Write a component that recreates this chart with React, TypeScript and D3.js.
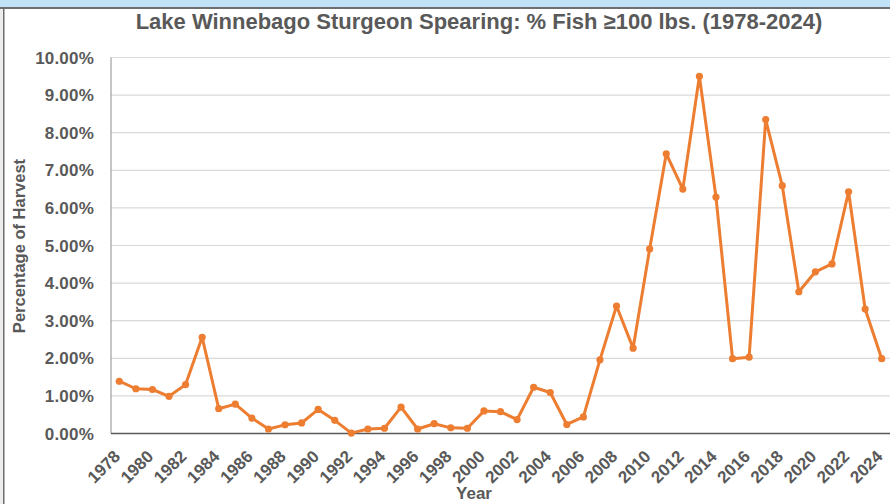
import React, { useEffect, useRef } from "react";
import * as d3 from "d3";

const years = d3.range(1978, 2025).map(String);
const pctValues = [
  1.39, 1.19, 1.17, 0.99, 1.3, 2.56, 0.66, 0.78, 0.41, 0.12,
  0.23, 0.28, 0.64, 0.35, 0.01, 0.12, 0.14, 0.7, 0.12, 0.26,
  0.15, 0.14, 0.6, 0.58, 0.37, 1.23, 1.09, 0.24, 0.44, 1.96,
  3.39, 2.27, 4.91, 7.44, 6.5, 9.5, 6.29, 1.99, 2.03, 8.35,
  6.59, 3.77, 4.3, 4.51, 6.43, 3.31, 1.99,
];
const yTicks = [0, 1, 2, 3, 4, 5, 6, 7, 8, 9, 10];
const xLabels = years.filter((y) => +y % 2 === 0);

const App = () => {
  const ref = useRef(null);

  useEffect(() => {
    const W = 890;
    const H = 504;
    const left = 111;
    const right = 890;
    const top = 57.5;
    const bottom = 433.5;
    const grey = "#595959";
    const font = "'Liberation Sans', Arial, sans-serif";

    d3.select(ref.current).select("svg").remove();

    const svg = d3
      .select(ref.current)
      .append("svg")
      .attr("width", W)
      .attr("height", H)
      .style("position", "fixed")
      .style("left", 0)
      .style("top", 0)
      .style("background", "#ffffff")
      .style("font-family", font);

    // window frame
    svg.append("rect").attr("x", 0).attr("y", 0).attr("width", W).attr("height", 7).attr("fill", "#c2e2f8");
    svg.append("rect").attr("x", 0).attr("y", 7).attr("width", W).attr("height", 2).attr("fill", "#6e6e6e");
    svg.append("rect").attr("x", 0).attr("y", 9).attr("width", 3).attr("height", H - 9).attr("fill", "#ededed");
    svg.append("rect").attr("x", 3).attr("y", 9).attr("width", 1.5).attr("height", H - 9).attr("fill", "#6e6e6e");

    const x = d3.scaleBand().domain(years).range([left, right]).padding(0);
    const y = d3.scaleLinear().domain([0, 10]).range([bottom, top]);
    const cx = (d) => x(d) + x.bandwidth() / 2;

    // gridlines
    svg
      .append("g")
      .selectAll("line")
      .data(yTicks.filter((t) => t > 0))
      .enter()
      .append("line")
      .attr("x1", left)
      .attr("x2", right)
      .attr("y1", (d) => y(d))
      .attr("y2", (d) => y(d))
      .attr("stroke", "#d9d9d9")
      .attr("stroke-width", 1.2);

    // axes lines
    svg.append("line").attr("x1", left).attr("x2", left).attr("y1", top).attr("y2", bottom).attr("stroke", "#8c8c8c").attr("stroke-width", 1);
    svg.append("line").attr("x1", left).attr("x2", right).attr("y1", bottom).attr("y2", bottom).attr("stroke", grey).attr("stroke-width", 1.5);

    // y tick labels
    svg
      .append("g")
      .selectAll("text")
      .data(yTicks)
      .enter()
      .append("text")
      .attr("x", 94)
      .attr("y", (d) => y(d) + 6)
      .attr("text-anchor", "end")
      .attr("font-size", 17)
      .attr("font-weight", "bold")
      .attr("letter-spacing", 0.2)
      .attr("fill", grey)
      .text((d) => d.toFixed(2) + "%");

    // x tick labels
    svg
      .append("g")
      .selectAll("text")
      .data(xLabels)
      .enter()
      .append("text")
      .attr("transform", (d) => `translate(${cx(d) + 2},${bottom + 24}) rotate(-45)`)
      .attr("text-anchor", "end")
      .attr("font-size", 17)
      .attr("font-weight", "bold")
      .attr("fill", grey)
      .text((d) => d);

    // titles
    svg
      .append("text")
      .attr("x", 479)
      .attr("y", 29)
      .attr("text-anchor", "middle")
      .attr("font-size", 22)
      .attr("font-weight", "bold")
      .attr("fill", grey)
      .text("Lake Winnebago Sturgeon Spearing: % Fish ≥100 lbs. (1978-2024)");

    svg
      .append("text")
      .attr("transform", `translate(25,246) rotate(-90)`)
      .attr("text-anchor", "middle")
      .attr("font-size", 16.5)
      .attr("font-weight", "bold")
      .attr("fill", grey)
      .text("Percentage of Harvest");

    svg
      .append("text")
      .attr("x", 474)
      .attr("y", 499)
      .attr("text-anchor", "middle")
      .attr("font-size", 17)
      .attr("font-weight", "bold")
      .attr("fill", grey)
      .text("Year");

    // series
    const line = d3
      .line()
      .x((d, i) => cx(years[i]))
      .y((d) => y(d));

    svg
      .append("path")
      .datum(pctValues)
      .attr("d", line)
      .attr("fill", "none")
      .attr("stroke", "#ed7d31")
      .attr("stroke-width", 3)
      .attr("stroke-linejoin", "round");

    svg
      .append("g")
      .selectAll("circle")
      .data(pctValues)
      .enter()
      .append("circle")
      .attr("cx", (d, i) => cx(years[i]))
      .attr("cy", (d) => y(d))
      .attr("r", 3.6)
      .attr("fill", "#ed7d31");
  }, []);

  return <div ref={ref}></div>;
};

export default App;
